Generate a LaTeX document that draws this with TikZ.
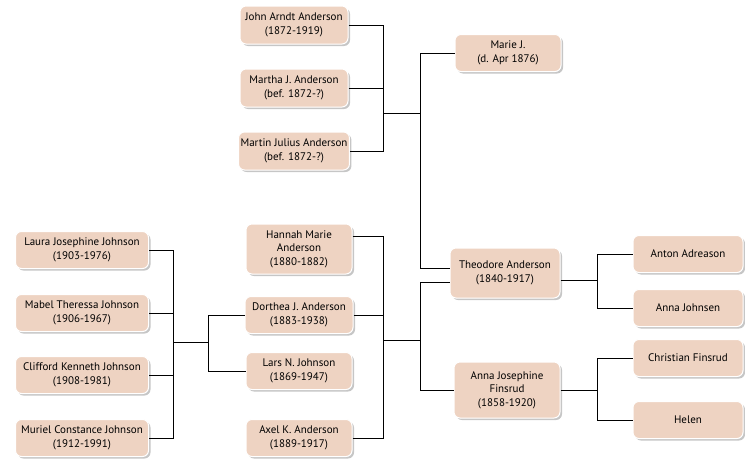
\documentclass[tikz,border=0pt]{standalone}
\usepackage{fontspec}
\setmainfont{PT Sans}
\usetikzlibrary{shadows}
\definecolor{boxfill}{HTML}{EED3C2}
\begin{document}
\begin{tikzpicture}[
    x=1pt, y=-1pt,
    person/.style={rectangle, draw=white, line width=1pt, rounded corners=6pt, fill=boxfill,
        align=center, font=\fontsize{11}{13.5}\selectfont, inner sep=2pt,
        drop shadow={shadow xshift=2pt, shadow yshift=-2pt, opacity=0.45}},
    link/.style={draw=black, line width=0.7pt}
]
\useasboundingbox (0,0) rectangle (745,474);

% Marie's generation
\node[person, minimum width=108pt, minimum height=38pt] (john) at (294,25) {John Arndt Anderson\\(1872-1919)};
\node[person, minimum width=108pt, minimum height=38pt] (martha) at (294,88) {Martha J. Anderson\\(bef. 1872-?)};
\node[person, minimum width=108pt, minimum height=38pt] (martin) at (294,151) {Martin Julius Anderson\\(bef. 1872-?)};
\node[person, minimum width=106pt, minimum height=37pt] (marie) at (508,53) {Marie J.\\(d. Apr 1876)};

% Theodore's children
\node[person, minimum width=106pt, minimum height=50pt] (hannah) at (299,249) {Hannah Marie\\Anderson\\(1880-1882)};
\node[person, minimum width=108pt, minimum height=37pt] (dorthea) at (299,315) {Dorthea J. Anderson\\(1883-1938)};
\node[person, minimum width=106pt, minimum height=37pt] (lars) at (299,371) {Lars N. Johnson\\(1869-1947)};
\node[person, minimum width=106pt, minimum height=37pt] (axel) at (299,438) {Axel K. Anderson\\(1889-1917)};

% Johnson children
\node[person, minimum width=133pt, minimum height=37pt] (laura) at (82,250) {Laura Josephine Johnson\\(1903-1976)};
\node[person, minimum width=133pt, minimum height=37pt] (mabel) at (82,313) {Mabel Theressa Johnson\\(1906-1967)};
\node[person, minimum width=133pt, minimum height=37pt] (clifford) at (82,375) {Clifford Kenneth Johnson\\(1908-1981)};
\node[person, minimum width=133pt, minimum height=37pt] (muriel) at (82,438) {Muriel Constance Johnson\\(1912-1991)};

% Parents
\node[person, minimum width=110pt, minimum height=50pt] (theodore) at (505,273) {Theodore Anderson\\(1840-1917)};
\node[person, minimum width=106pt, minimum height=56pt] (annajo) at (507,390) {Anna Josephine\\Finsrud\\(1858-1920)};
\node[person, minimum width=110pt, minimum height=37pt] (anton) at (688,254) {Anton Adreason};
\node[person, minimum width=110pt, minimum height=37pt] (annaj) at (688,308) {Anna Johnsen};
\node[person, minimum width=110pt, minimum height=37pt] (christian) at (688,358) {Christian Finsrud};
\node[person, minimum width=110pt, minimum height=37pt] (helen) at (688,420) {Helen};

% junctions
\coordinate (j1) at (383,113);
\coordinate (j2) at (420,113);
\coordinate (j3) at (383,340);
\coordinate (j4) at (420,340);
\coordinate (j5) at (173,342);
\coordinate (j6) at (208,342);
\coordinate (j7) at (597,280);
\coordinate (j8) at (597,390);

% Marie and her children
\draw[link] (john.east) -| (j1);
\draw[link] (martha.east) -- (martha.east -| j1);
\draw[link] (martin.east) -| (j1);
\draw[link] (j1) -- (j2);
\draw[link] (marie.west) -| (j2);
\draw[link] ([yshift=5pt]theodore.west) -| (j2);

% Theodore and Anna Josephine's children
\draw[link] ([yshift=13pt]hannah.east) -| (j3);
\draw[link] (dorthea.east) -- (dorthea.east -| j3);
\draw[link] (axel.east) -| (j3);
\draw[link] (j3) -- (j4);
\draw[link] ([yshift=-9pt]theodore.west) -| (j4);
\draw[link] (annajo.west) -| (j4);

% Dorthea and Lars's children
\draw[link] (laura.east) -| (j5);
\draw[link] (mabel.east) -- (mabel.east -| j5);
\draw[link] (clifford.east) -- (clifford.east -| j5);
\draw[link] (muriel.east) -| (j5);
\draw[link] (j5) -- (j6);
\draw[link] (dorthea.west) -| (j6);
\draw[link] (lars.west) -| (j6);

% grandparents
\draw[link] ([yshift=-7pt]theodore.east) -- (j7);
\draw[link] (anton.west) -| (j7);
\draw[link] (annaj.west) -| (j7);
\draw[link] (annajo.east) -- (j8);
\draw[link] (christian.west) -| (j8);
\draw[link] (helen.west) -| (j8);
\end{tikzpicture}
\end{document}
